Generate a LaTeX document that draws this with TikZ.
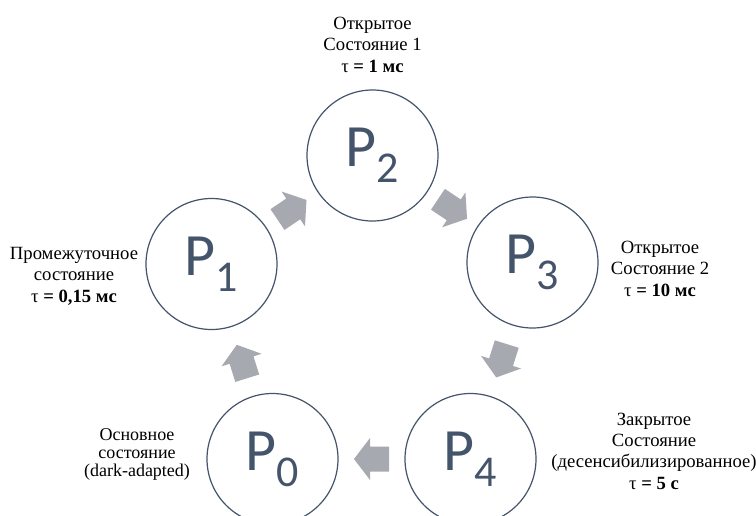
\documentclass[tikz,border=0pt]{standalone}
\usepackage{fontspec}
\setmainfont{Liberation Serif}
\newfontfamily\pfont{Carlito}
\usetikzlibrary{calc}
\definecolor{slate}{HTML}{44546A}
\definecolor{arrgray}{HTML}{A6A9AF}
\newcommand\Pst[1]{\fontsize{45}{45}\selectfont P\raisebox{-12pt}{\fontsize{33}{33}\selectfont #1}}
\tikzset{
  state/.style={circle, draw=slate, line width=0.9pt, minimum size=98.25pt, inner sep=0pt, text=slate, font=\pfont},
  lbl/.style={align=center, font=\fontsize{14}{15.8}\selectfont, inner sep=0pt, text=black},
  lblsmall/.style={align=center, font=\fontsize{13.5}{13.2}\selectfont, inner sep=0pt, text=black},
  blk/.pic={\fill[arrgray] (-17.5,-12.5) -- (1.5,-12.5) -- (1.5,-21) -- (17.5,0) -- (1.5,21) -- (1.5,12.5) -- (-17.5,12.5) -- cycle;},
  flow/.style={pos=0.5, sloped, allow upside down}
}
\begin{document}
\begin{tikzpicture}[x=0.75pt,y=-0.75pt]
\useasboundingbox (0,0) rectangle (756,515);
\fill[white] (0,0) rectangle (756,515);
\node[state] (P0) at (272.5,459) {\Pst{0}};
\node[state] (P1) at (211.5,264) {\Pst{1}};
\node[state] (P2) at (372.5,155.5) {\Pst{2}};
\node[state] (P3) at (532.5,262.5) {\Pst{3}};
\node[state] (P4) at (470.5,459) {\Pst{4}};
\path (P0) -- pic[flow]{blk} (P1);
\path (P1) -- pic[flow]{blk} (P2);
\path (P2) -- pic[flow]{blk} (P3);
\path (P3) -- pic[flow]{blk} (P4);
\path (P4) -- pic[flow]{blk} (P0);
\node[lbl, anchor=base] (l2) at (372.5,72) {Открытое\\Состояние 1\\τ \textbf{= 1 мс}};
\node[lbl, anchor=base] (l1) at (74,302) {Промежуточное\\состояние\\τ \textbf{= 0,15 мс}};
\node[lbl, anchor=base] (l3) at (660,296) {Открытое\\Состояние 2\\τ \textbf{= 10 мс}};
\node[lbl, anchor=base] (l4) at (654,489) {Закрытое\\Состояние\\(десенсибилизированное)\\τ \textbf{= 5 с}};
\node[lblsmall, anchor=base] (l0) at (137,476) {Основное\\состояние\\(dark-adapted)};
\end{tikzpicture}
\end{document}
